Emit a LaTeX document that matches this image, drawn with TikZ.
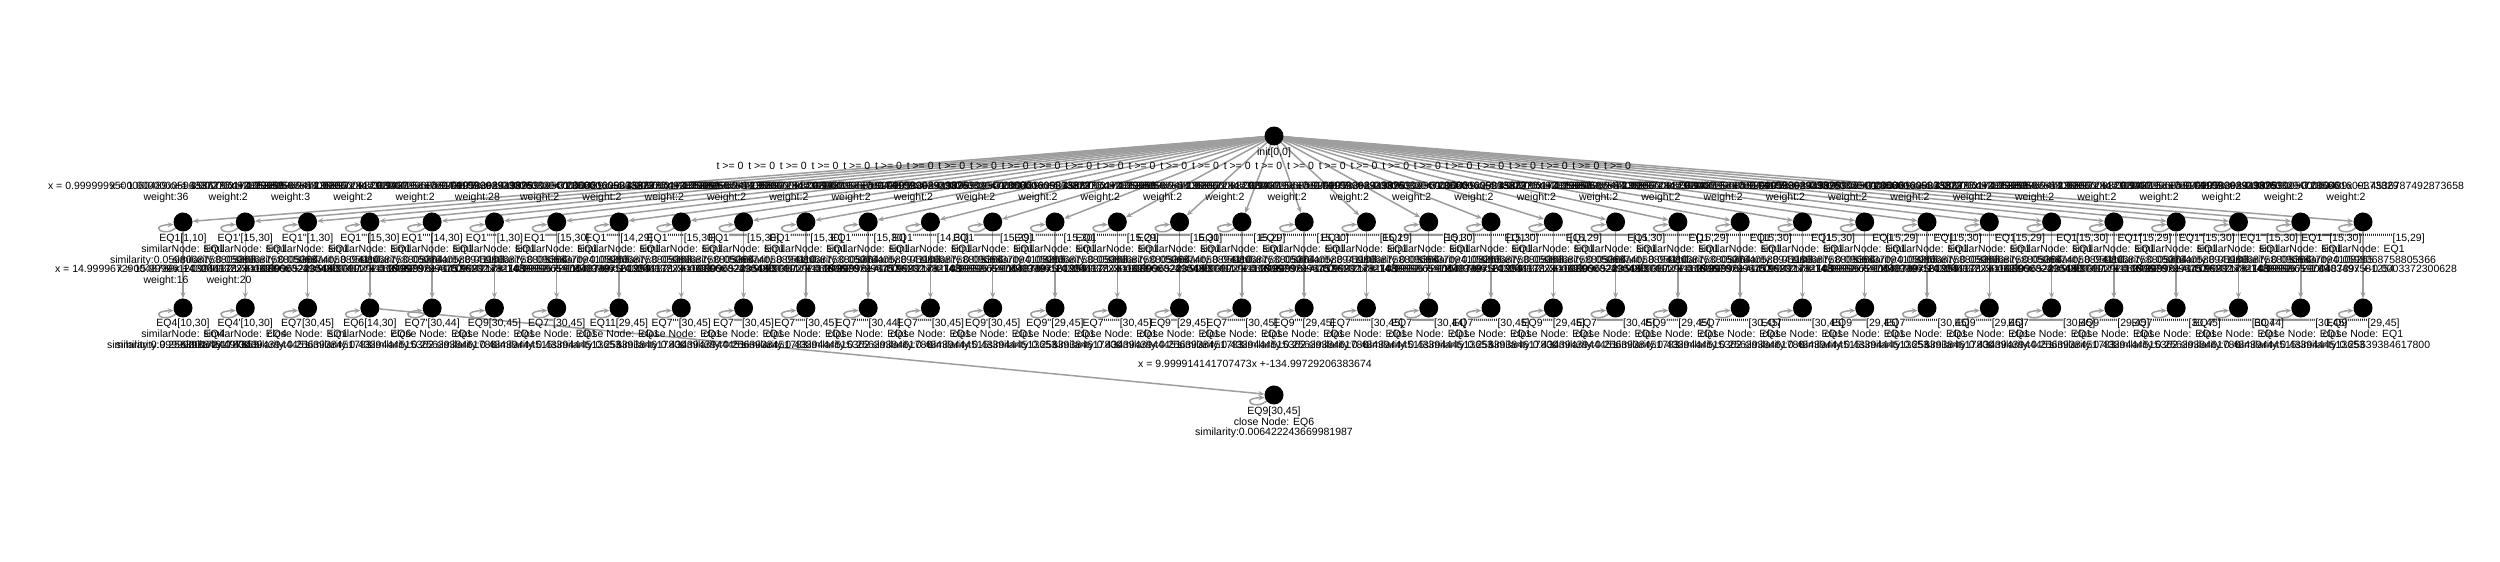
\documentclass[tikz,border=0pt]{standalone}
\usepackage{fontspec}
\newfontfamily\lab{Liberation Sans}
\usetikzlibrary{arrows.meta}
\pgfdeclarelayer{edges}
\pgfsetlayers{edges,main}
\definecolor{edgegray}{RGB}{158,158,158}
\newcommand\primes[1]{\ifnum\numexpr#1\relax>0 '\expandafter\primes\expandafter{\the\numexpr#1-1\relax}\fi}
\newcommand\fA[1]{\ifcase#1 x = 0.9999999293982630x +3.000001609373829\or x = 0.9999999500060489x +1.4536787492873658\or x = 1.0000000596887276x +0.0598068758805366\or x = 1.0000001743628954x +14.999972847309427\or x = 0.9999998947236892x +1.000000253678943877\or x = 1.0000000829204416x +0.9999958308943875\or x = 0.9999996358174109x +14.000003294723566\fi}
\newcommand\sA[1]{\ifcase#1 similarity:0.0966837094108265\or similarity:0.0598068758805366\or similarity:0.0598068758805366\or similarity:0.0596874058894110\or similarity:0.0598068758805364\or similarity:0.0597640588941106\or similarity:0.0598068758805366\fi}
\newcommand\fB[1]{\ifcase#1 x = 15.999917827489652x +-1.4403497581254\or x = 14.999967290048789x +-0.0003372300628\or x = 15.999991203244178x +-14.999652035490\or x = 14.999982176109896x +-29.99937411781108962\or x = 15.000024104380357x +-0.9999787996752\or x = 14.999929206343939x +-1.0000421781108\or x = 15.999981744196232x +-14.99999659789\fi}
\newcommand\sB[1]{\ifcase#1 similarity:0.4339444513653\or similarity:0.25639384617800\or similarity:0.4343943944451\or similarity:0.2563938451783\or similarity:0.4339444515362\or similarity:0.2563938461780\or similarity:0.43439444515\fi}
\begin{document}
\begin{tikzpicture}[x=1pt,y=-1pt,
  font=\lab\fontsize{10.5}{11}\selectfont,
  dot/.style={circle,fill=black,inner sep=0pt,minimum size=19pt},
  edge/.style={draw=edgegray,line width=1.5pt,-{Stealth[length=6pt,width=5pt]}},
  selfloop/.style={edge},
  lbl/.style={inner sep=0pt,text=black}]
\useasboundingbox (0,0) rectangle (2500,562);
% root
\node[dot] (root) at (1274,136) {};
\node[lbl,anchor=base] (rootl) at (1274,155) {init[0,0]};
\foreach \k in {0,...,28}{
  \pgfmathsetmacro\tx{730+31.7*\k}
  \node[lbl,anchor=base] (t\k) at (\tx,169) {t >= 0};
}
% row 1
\foreach \i/\a/\b/\w in {1/1/10/36, 2/15/30/2, 3/1/30/3, 4/15/30/2, 5/14/30/2, 6/1/30/28, 7/15/30/2, 8/14/29/2, 9/15/30/2, 10/15/30/2, 11/15/30/2, 12/15/30/2, 13/14/30/2, 14/15/29/2, 15/15/30/2, 16/15/29/2, 17/15/30/2, 18/15/29/2, 19/15/30/2, 20/15/29/2, 21/15/30/2, 22/15/30/2, 23/15/29/2, 24/15/30/2, 25/15/29/2, 26/15/30/2, 27/15/30/2, 28/15/29/2, 29/15/30/2, 30/15/29/2, 31/15/30/2, 32/15/29/2, 33/15/30/2, 34/15/30/2, 35/15/30/2, 36/15/29/2}{
  \pgfmathsetmacro\xx{183+(\i-1)*62.286}
  \pgfmathsetmacro\xl{\xx-17}
  \pgfmathtruncatemacro\kk{mod(\i,7)}
  \node[dot] (a\i) at (\xx,222) {};
  \node[lbl,anchor=base] (af\i) at (\xl,189) {\fA{\kk}};
  \node[lbl,anchor=base] (aw\i) at (\xl,200) {weight:\w};
  \node[lbl,anchor=base] (an\i) at (\xx,241) {EQ1\primes{\i-1}[\a,\b]};
  \node[lbl,anchor=base] (as\i) at (\xx,252) {similarNode: EQ1};
  \node[lbl,anchor=base] (ay\i) at (\xx,263) {\sA{\kk}};
  \begin{pgfonlayer}{edges}
    \draw[edge] (root) -- (a\i);
    \draw[selfloop] (a\i.95) .. controls +(95:34) and +(178:34) .. (a\i.195);
  \end{pgfonlayer}
}
% row 2
\foreach \i/\e/\p/\a/\b/\sec in {1/4/0/10/30/similarNode: EQ4, 2/4/1/10/30/similarNode: EQ4, 3/7/0/30/45/close Node: EQ1, 4/6/0/14/30/similarNode: EQ6, 5/7/1/30/44/close Node: EQ1, 6/9/0/30/45/close Node: EQ1, 7/7/2/30/45/close Node: EQ1, 8/11/0/29/45/close Node: EQ1, 9/7/3/30/45/close Node: EQ1, 10/7/4/30/45/close Node: EQ1, 11/7/5/30/45/close Node: EQ1, 12/7/6/30/44/close Node: EQ1, 13/7/7/30/45/close Node: EQ1, 14/9/1/30/45/close Node: EQ1, 15/9/2/29/45/close Node: EQ1, 16/7/8/30/45/close Node: EQ1, 17/9/3/29/45/close Node: EQ1, 18/7/9/30/45/close Node: EQ1, 19/9/4/29/45/close Node: EQ1, 20/7/10/30/45/close Node: EQ1, 21/7/11/30/44/close Node: EQ1, 22/7/12/30/45/close Node: EQ1, 23/9/5/29/45/close Node: EQ1, 24/7/13/30/45/close Node: EQ1, 25/9/6/29/45/close Node: EQ1, 26/7/14/30/45/close Node: EQ1, 27/7/15/30/45/close Node: EQ1, 28/9/7/29/45/close Node: EQ1, 29/7/16/30/45/close Node: EQ1, 30/9/8/29/45/close Node: EQ1, 31/7/17/30/45/close Node: EQ1, 32/9/9/29/45/close Node: EQ1, 33/7/18/30/45/close Node: EQ1, 34/7/19/30/44/close Node: EQ1, 35/7/20/30/45/close Node: EQ1, 36/9/10/29/45/close Node: EQ1}{
  \pgfmathsetmacro\xx{183+(\i-1)*62.286}
  \pgfmathsetmacro\xl{\xx-17}
  \pgfmathtruncatemacro\kk{mod(\i,7)}
  \node[dot] (b\i) at (\xx,308) {};
  \node[lbl,anchor=base] (bf\i) at (\xl,272) {\fB{\kk}};
  \node[lbl,anchor=base] (bn\i) at (\xx,326) {EQ\e\primes{\p}[\a,\b]};
  \node[lbl,anchor=base] (bs\i) at (\xx,337) {\sec};
  \node[lbl,anchor=base] (by\i) at (\xx,348) {\sB{\kk}};
  \begin{pgfonlayer}{edges}
    \draw[edge] (a\i) -- (b\i);
    \draw[selfloop] (b\i.95) .. controls +(95:34) and +(178:34) .. (b\i.195);
  \end{pgfonlayer}
}
\node[lbl,anchor=base] (bw1) at (166,283) {weight:16};
\node[lbl,anchor=base] (bw2) at (229,283) {weight:20};
\node[lbl,anchor=base] (by1x) at (183,348) {similarity:0.99999301724497653};
% bottom node
\node[dot] (c) at (1274,395) {};
\node[lbl,anchor=base] (cf) at (1255,367) {x = 9.999914141707473x +-134.99729206383674};
\node[lbl,anchor=base] (cn) at (1274,414) {EQ9[30,45]};
\node[lbl,anchor=base] (cs) at (1274,425) {close Node: EQ6};
\node[lbl,anchor=base] (cy) at (1274,435) {similarity:0.006422243669981987};
\begin{pgfonlayer}{edges}
  \draw[edge] (b4) -- (c);
  \draw[selfloop] (c.95) .. controls +(95:34) and +(178:34) .. (c.195);
\end{pgfonlayer}
\end{tikzpicture}
\end{document}
